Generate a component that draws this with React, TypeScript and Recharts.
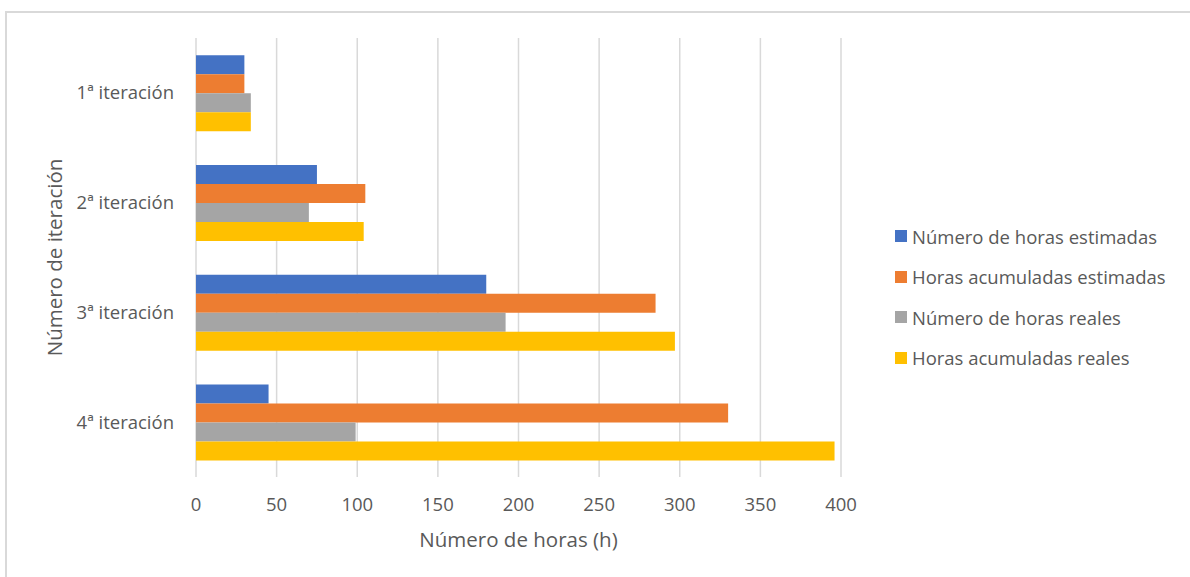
import { BarChart, Bar, XAxis, YAxis, CartesianGrid, Label } from "recharts"

const iterations = ["1ª iteración", "2ª iteración", "3ª iteración", "4ª iteración"]
const horasEstimadas = [30, 75, 180, 45]
const acumuladasEstimadas = [30, 105, 285, 330]
const horasReales = [34, 70, 192, 99]
const acumuladasReales = [34, 104, 297, 396]
const xTicks = [0, 50, 100, 150, 200, 250, 300, 350, 400]

const seriesNames = [
  "Número de horas estimadas",
  "Horas acumuladas estimadas",
  "Número de horas reales",
  "Horas acumuladas reales",
]
const colors = ["#4472C4", "#ED7D31", "#A5A5A5", "#FFC000"]

const data = iterations.map((name, i) => ({
  name,
  estimadas: horasEstimadas[i],
  acumEstimadas: acumuladasEstimadas[i],
  reales: horasReales[i],
  acumReales: acumuladasReales[i],
}))

const keys = ["estimadas", "acumEstimadas", "reales", "acumReales"]
const textColor = "#595959"
const font = "'Open Sans', sans-serif"

// legend drawn as plain html so it doesn't eat into the plot area
function ChartLegend() {
  return (
    <div
      style={{
        position: "absolute",
        left: 895,
        top: 216,
        fontFamily: font,
        fontSize: 18.5,
        color: textColor,
        whiteSpace: "nowrap",
      }}
    >
      {seriesNames.map((name, i) => (
        <div key={name} style={{ height: 40.5, display: "flex", alignItems: "center" }}>
          <span style={{ width: 12, height: 12, background: colors[i], marginRight: 5, display: "inline-block" }} />
          <span>{name}</span>
        </div>
      ))}
    </div>
  )
}

export default function App() {
  return (
    <div style={{ position: "absolute", left: 0, top: 0, width: 1190, height: 577, background: "#fff" }}>
      <div
        style={{
          position: "absolute",
          left: 5,
          top: 11,
          width: 1185,
          height: 566,
          borderTop: "2px solid #D9D9D9",
          borderLeft: "2px solid #D9D9D9",
          boxSizing: "border-box",
        }}
      />
      <BarChart
        width={1190}
        height={577}
        data={data}
        layout="vertical"
        margin={{ top: 38, right: 349, bottom: 0, left: 0 }}
        barCategoryGap="15.8%"
        barGap={0}
        style={{ position: "absolute", left: 0, top: 0 }}
      >
        <CartesianGrid horizontal={false} stroke="#D9D9D9" strokeWidth={1.5} />
        <XAxis
          type="number"
          domain={[0, 400]}
          ticks={xTicks}
          height={100}
          axisLine={false}
          tickLine={false}
          tickSize={0}
          tickMargin={21}
          tick={{ fill: textColor, fontSize: 18.5, fontFamily: font }}
        >
          <Label
            content={(p: any) => {
              const vb = p.viewBox
              return (
                <text
                  x={vb.x + vb.width / 2}
                  y={547}
                  textAnchor="middle"
                  fill={textColor}
                  fontSize={20.5}
                  fontFamily={font}
                >
                  Número de horas (h)
                </text>
              )
            }}
          />
        </XAxis>
        <YAxis
          type="category"
          dataKey="name"
          width={196}
          axisLine={false}
          tickLine={false}
          tickSize={0}
          tickMargin={22}
          tick={{ fill: textColor, fontSize: 18.5, fontFamily: font }}
        >
          <Label
            content={(p: any) => {
              const vb = p.viewBox
              const cy = vb.y + vb.height / 2
              return (
                <text
                  x={62}
                  y={cy}
                  transform={`rotate(-90, 62, ${cy})`}
                  textAnchor="middle"
                  fill={textColor}
                  fontSize={20.5}
                  fontFamily={font}
                >
                  Número de iteración
                </text>
              )
            }}
          />
        </YAxis>
        {keys.map((k, i) => (
          <Bar key={k} dataKey={k} name={seriesNames[i]} fill={colors[i]} isAnimationActive={false} />
        ))}
      </BarChart>
      <ChartLegend />
    </div>
  )
}
